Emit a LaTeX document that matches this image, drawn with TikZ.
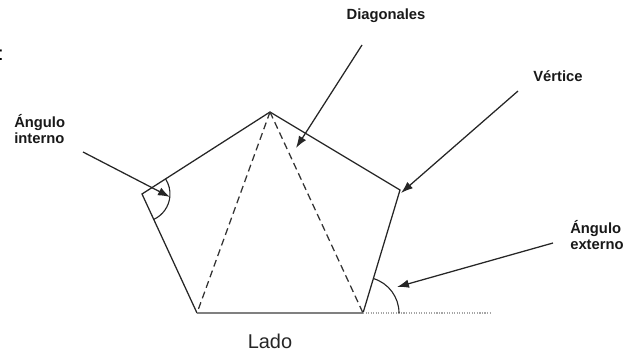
\documentclass[tikz,border=0pt]{standalone}
\usepackage{fontspec}
\setmainfont{Liberation Sans}
\usepackage{tikz}
\usetikzlibrary{angles, arrows.meta}

\tikzset{
	side/.style={line width=0.9pt, black!85},
	diag/.style={line width=0.9pt, black!80, dash pattern=on 5pt off 3pt},
	pointer/.style={line width=0.9pt, black!85, -{Latex[length=8.5pt, width=6pt]}},
	lbl/.style={font=\fontsize{10.5}{11}\selectfont\bfseries, align=left, inner sep=0pt, text=black!90},
	anglemark/.style={draw, line width=0.8pt, black!85}
}

\begin{document}
\begin{tikzpicture}
	\useasboundingbox (0, 0) rectangle (15.8, 8.8);
	% Vertices and pointer ends:
	\coordinate (top) at (6.75, 6.0);
	\coordinate (left) at (3.55, 3.95);
	\coordinate (botleft) at (4.925, 0.975);
	\coordinate (botright) at (9.075, 0.975);
	\coordinate (right) at (10.0, 4.05);
	\coordinate (extend) at (12.3, 0.975);
	\coordinate (intstart) at (2.075, 5.0);
	\coordinate (inttip) at (4.25, 3.875);
	\coordinate (diagstart) at (9.05, 7.675);
	\coordinate (diagtip) at (7.4, 5.1);
	\coordinate (vertstart) at (12.95, 6.525);
	\coordinate (verttip) at (10.025, 3.975);
	\coordinate (extstart) at (13.825, 2.725);
	\coordinate (exttip) at (9.925, 1.625);
	% Pentagon:
	\draw[side] (botleft) -- (left) -- (top) -- (right) -- (botright);
	\draw[line width=1.1pt, gray] (botleft) -- (botright);
	\draw[line width=0.8pt, gray!70, densely dotted] (botright) -- (extend);
	\draw[diag] (top) -- (botleft);
	\draw[diag] (top) -- (botright);
	\pic[anglemark, angle radius=0.7cm] {angle = botleft--left--top};
	\pic[anglemark, angle radius=0.9cm] {angle = extend--botright--right};
	% Labels:
	\node[anchor=base, font=\fontsize{14.2}{16}\selectfont] (colon) at (0.02, 7.275){:};
	\node[lbl, anchor=west] (interno) at (0.35, 5.575){Ángulo\\interno};
	\node[lbl] (diagonales) at (9.65, 8.4){Diagonales};
	\node[lbl] (vertice) at (13.95, 6.9){Vértice};
	\node[lbl, anchor=west] (externo) at (14.25, 2.925){Ángulo\\externo};
	\node[anchor=base, font=\fontsize{14.2}{16}\selectfont, text=black!85] (lado) at (6.75, 0.09){Lado};
	% Pointers:
	\draw[pointer] (intstart) -- (inttip);
	\draw[pointer] (diagstart) -- (diagtip);
	\draw[pointer] (vertstart) -- (verttip);
	\draw[pointer] (extstart) -- (exttip);
\end{tikzpicture}
\end{document}
